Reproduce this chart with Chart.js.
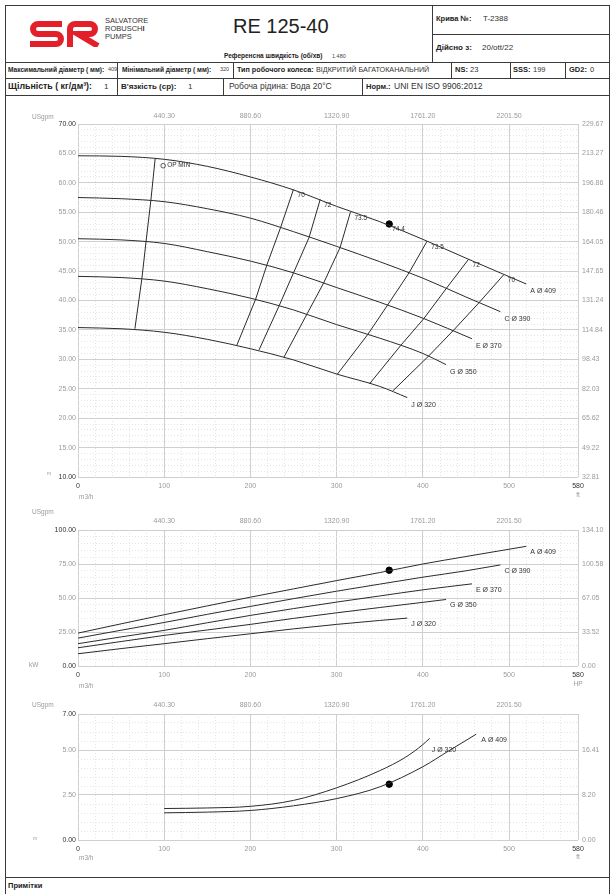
<!DOCTYPE html>
<html>
<head>
<meta charset="utf-8">
<script src="https://cdn.jsdelivr.net/npm/chart.js@4.4.0/dist/chart.umd.min.js"></script>
<style>
  html, body { margin: 0; padding: 0; background: #fff; }
  body { width: 614px; height: 894px; position: relative; overflow: hidden;
         font-family: "Liberation Sans", Arial, sans-serif; color: #222; }
  .ln { position: absolute; background: #3a3a3a; }
  .t { position: absolute; white-space: nowrap; line-height: 1; }
  .b { font-weight: bold; }
  canvas { position: absolute; left: 0; }
</style>
</head>
<body>

<!-- frame -->
<div class="ln" style="left:5px;top:5px;width:605px;height:1px"></div>
<div class="ln" style="left:5px;top:5px;width:1px;height:889px"></div>
<div class="ln" style="left:609px;top:5px;width:1px;height:889px"></div>
<div class="ln" style="left:432px;top:5px;width:1px;height:57px"></div>
<div class="ln" style="left:432px;top:34px;width:177px;height:1px"></div>
<div class="ln" style="left:5px;top:62px;width:605px;height:1px"></div>
<div class="ln" style="left:117px;top:62px;width:1px;height:16px"></div>
<div class="ln" style="left:233px;top:62px;width:1px;height:16px"></div>
<div class="ln" style="left:451px;top:62px;width:1px;height:16px"></div>
<div class="ln" style="left:510px;top:62px;width:1px;height:16px"></div>
<div class="ln" style="left:565px;top:62px;width:1px;height:16px"></div>
<div class="ln" style="left:5px;top:78px;width:605px;height:1px"></div>
<div class="ln" style="left:117px;top:78px;width:1px;height:17px"></div>
<div class="ln" style="left:223px;top:78px;width:1px;height:17px"></div>
<div class="ln" style="left:362px;top:78px;width:1px;height:17px"></div>
<div class="ln" style="left:5px;top:95px;width:605px;height:1px"></div>
<div class="ln" style="left:5px;top:877px;width:605px;height:1px"></div>

<!-- logo -->
<svg style="position:absolute;left:29px;top:21px" width="72" height="26" viewBox="0 0 72 26">
  <path d="M33 3 H9 A5 5 0 0 0 9 13 H27 A5 5 0 0 1 27 23 H1" stroke="#e3202a" stroke-width="6" fill="none"/>
  <path d="M41 26 V8 A5 5 0 0 1 46 3 H61 A5 5 0 0 1 61 13 H49 L69 25" stroke="#e3202a" stroke-width="6" fill="none"/>
</svg>
<div class="t" style="left:105px;top:17px;font-size:7.5px;color:#333">SALVATORE</div>
<div class="t" style="left:105px;top:25px;font-size:7.5px;color:#333">ROBUSCH<b>I</b></div>
<div class="t" style="left:105px;top:33px;font-size:7.5px;color:#333">PUMPS</div>

<div class="t" style="left:233px;top:16px;font-size:20px;color:#222">RE 125-40</div>
<div class="t b" style="left:224px;top:53px;font-size:6.5px">Референсна швидкість (об/хв)</div>
<div class="t" style="left:332px;top:54px;font-size:5.5px;color:#444">1.480</div>

<div class="t b" style="left:436px;top:15px;font-size:7.5px">Крива №:</div>
<div class="t" style="left:483px;top:15px;font-size:8px;color:#333">T-2388</div>
<div class="t b" style="left:436px;top:44px;font-size:8px">Дійсно з:</div>
<div class="t" style="left:482px;top:44px;font-size:8px;color:#333">20/ott/22</div>

<div class="t b" style="left:8px;top:67px;font-size:6.6px">Максимальний діаметр ( мм):</div>
<div class="t" style="left:108px;top:67px;font-size:5.5px;color:#444">409</div>
<div class="t b" style="left:122px;top:67px;font-size:6.6px">Мінімальний діаметр ( мм):</div>
<div class="t" style="left:220px;top:67px;font-size:5.5px;color:#444">320</div>
<div class="t b" style="left:237px;top:66px;font-size:7.2px">Тип робочого колеса:</div>
<div class="t" style="left:316px;top:66px;font-size:7.2px;color:#333">ВІДКРИТИЙ БАГАТОКАНАЛЬНИЙ</div>
<div class="t b" style="left:455px;top:66px;font-size:7.5px">NS:</div>
<div class="t" style="left:470px;top:66px;font-size:7.5px;color:#333">23</div>
<div class="t b" style="left:513px;top:66px;font-size:7.5px">SSS:</div>
<div class="t" style="left:533px;top:66px;font-size:7.5px;color:#333">199</div>
<div class="t b" style="left:569px;top:66px;font-size:7.5px">GD2:</div>
<div class="t" style="left:590px;top:66px;font-size:7.5px;color:#333">0</div>

<div class="t b" style="left:8px;top:82px;font-size:8.8px">Щільність ( кг/дм³):</div>
<div class="t" style="left:104px;top:83px;font-size:8px;color:#333">1</div>
<div class="t b" style="left:121px;top:83px;font-size:8px">В'язкість (ср):</div>
<div class="t" style="left:188px;top:83px;font-size:8px;color:#333">1</div>
<div class="t" style="left:229px;top:82px;font-size:8.5px;color:#333">Робоча рідина: Вода 20°C</div>
<div class="t b" style="left:366px;top:83px;font-size:7.5px">Норм.:</div>
<div class="t" style="left:394px;top:82px;font-size:8.5px;color:#333">UNI EN ISO 9906:2012</div>

<div class="t b" style="left:8px;top:882px;font-size:7.5px">Примітки</div>

<canvas id="headChart" width="614" height="410" style="top:100px"></canvas>
<canvas id="powerChart" width="614" height="194" style="top:500px"></canvas>
<canvas id="npshChart" width="614" height="180" style="top:694px"></canvas>

<script>
// flow axis (m3/h) and the US gpm axis on top
const Q_TICKS = [0, 100, 200, 300, 400, 500, 580]
const Q_LABELS = ['0', '100', '200', '300', '400', '500', '580']
const USGPM_AT = [100, 200, 300, 400, 500]
const USGPM_LABELS = ['440.30', '880.60', '1320.90', '1761.20', '2201.50']

const HEAD_TICKS = [10, 15, 20, 25, 30, 35, 40, 45, 50, 55, 60, 65, 70]
const HEAD_LABELS = ['10.00', '15.00', '20.00', '25.00', '30.00', '35.00', '40.00', '45.00', '50.00', '55.00', '60.00', '65.00', '70.00']
const HEAD_FT_LABELS = ['32.81', '49.22', '65.62', '82.03', '98.43', '114.84', '131.24', '147.65', '164.05', '180.46', '196.86', '213.27', '229.67']

const POWER_TICKS = [0, 25, 50, 75, 100]
const POWER_LABELS = ['0.00', '25.00', '50.00', '75.00', '100.00']
const POWER_HP_LABELS = ['0.00', '33.52', '67.05', '100.58', '134.10']

const NPSH_TICKS = [0, 2.5, 5, 7]
const NPSH_LABELS = ['0.00', '2.50', '5.00', '7.00']
const NPSH_FT_TICKS = [0, 2.5, 5]
const NPSH_FT_LABELS = ['0.00', '8.20', '16.41']

const IMPELLERS = ['A Ø 409', 'C Ø 390', 'E Ø 370', 'G Ø 350', 'J Ø 320']

// head (m) vs flow (m3/h)
const headQ_A = [0, 50, 100, 150, 200, 250, 300, 350, 400, 450, 520]
const headA = [64.6, 64.5, 64.0, 62.8, 61.0, 58.8, 56.0, 53.4, 50.4, 47.2, 42.8]
const headQ_C = [0, 50, 100, 150, 200, 250, 300, 350, 400, 450, 490]
const headC = [57.5, 57.3, 56.8, 55.6, 54.0, 51.7, 49.2, 46.6, 43.8, 40.6, 38.1]
const headQ_E = [0, 50, 100, 150, 200, 250, 300, 350, 400, 457]
const headE = [50.5, 50.3, 49.7, 48.3, 46.7, 44.7, 42.2, 39.7, 37.0, 33.5]
const headQ_G = [0, 50, 100, 150, 200, 250, 300, 350, 400, 427]
const headG = [44.1, 43.9, 43.3, 42.0, 40.4, 38.4, 35.9, 33.6, 31.0, 29.1]
const headQ_J = [0, 50, 100, 150, 200, 250, 300, 350, 382]
const headJ = [35.4, 35.2, 34.6, 33.4, 31.8, 29.9, 27.5, 25.4, 23.5]

// iso-efficiency lines, from A down to J
const ISO_LABELS = ['70', '72', '73.5', '73.5', '72', '70']
const iso70L_Q = [250, 235, 219, 206, 184]
const iso70L_H = [58.9, 52.4, 46.0, 40.2, 32.3]
const iso72L_Q = [281, 268, 250, 233, 210]
const iso72L_H = [57.2, 50.7, 44.7, 39.0, 31.6]
const iso735L_Q = [316, 304, 285, 266, 239]
const iso735L_H = [55.0, 49.0, 43.0, 37.8, 30.4]
const iso735R_Q = [405, 384, 359, 336, 301]
const iso735R_H = [50.1, 44.7, 39.2, 34.2, 27.5]
const iso72R_Q = [453, 427, 401, 374, 338]
const iso72R_H = [47.0, 42.0, 36.9, 32.3, 25.8]
const iso70R_Q = [494, 465, 436, 407, 365]
const iso70R_H = [44.4, 39.6, 35.0, 30.6, 24.6]
const opMin_Q = [89.5, 84.5, 79, 74, 66]
const opMin_H = [64.1, 57.0, 50.1, 43.6, 35.2]

// power (kW) vs flow
const powQ_A = [0, 50, 100, 150, 200, 250, 300, 350, 400, 450, 520]
const powA = [24.2, 31.0, 37.7, 44.2, 50.6, 56.7, 62.8, 68.7, 75.0, 80.5, 88.0]
const powQ_C = [0, 50, 100, 150, 200, 250, 300, 350, 400, 450, 490]
const powC = [20.5, 26.3, 32.0, 38.0, 43.8, 49.5, 55.0, 60.2, 65.3, 70.0, 74.3]
const powQ_E = [0, 50, 100, 150, 200, 250, 300, 350, 400, 457]
const powE = [16.4, 21.4, 26.2, 31.8, 37.2, 42.2, 47.0, 51.5, 56.0, 60.4]
const powQ_G = [0, 50, 100, 150, 200, 250, 300, 350, 400, 427]
const powG = [13.4, 18.0, 22.5, 26.5, 30.6, 35.0, 39.1, 43.0, 46.8, 48.9]
const powQ_J = [0, 50, 100, 150, 200, 250, 300, 350, 382]
const powJ = [9.0, 12.8, 16.4, 20.1, 23.7, 27.3, 30.6, 33.5, 35.2]

// NPSH (m) vs flow
const npshQ_J = [100, 150, 200, 250, 300, 350, 380, 400, 408]
const npshJ = [1.75, 1.78, 1.87, 2.2, 2.9, 3.85, 4.6, 5.3, 5.65]
const npshQ_A = [100, 150, 200, 250, 300, 350, 400, 430, 462]
const npshA = [1.51, 1.55, 1.64, 1.9, 2.3, 2.95, 4.07, 4.95, 5.88]

// duty point
const dutyQ = 361
const dutyH = 53.0
const dutyEff = '74.4'
const dutyP = 70.4
const dutyNpsh = 3.1

const FONT = '"Liberation Sans", Arial, sans-serif'
const INK = '#2b2b2b'
const GRID_MAJOR = '#cfcfcf'
const GRID_MINOR = '#e4e4e4'
const TICK_GRAY = '#9a9a9a'

Chart.defaults.font.family = FONT

const qGrid = []
for (let q = 0; q <= 580; q += 20) qGrid.push(q)

function points(qs, vs) {
  return qs.map((q, i) => ({ x: q, y: vs[i] }))
}

function curve(qs, vs, smooth = true) {
  return {
    data: points(qs, vs),
    showLine: true,
    borderColor: INK,
    borderWidth: 1,
    pointRadius: 0,
    cubicInterpolationMode: smooth ? 'monotone' : 'default',
    tension: 0
  }
}

function dot(q, v) {
  return {
    data: [{ x: q, y: v }],
    showLine: false,
    pointRadius: 3.2,
    pointBackgroundColor: '#000',
    pointBorderColor: '#000'
  }
}

function pageText(ctx, canvasTop, text, x, y, align = 'left', size = 6.5, color = TICK_GRAY) {
  ctx.font = `${size}px ${FONT}`
  ctx.fillStyle = color
  ctx.textAlign = align
  ctx.textBaseline = 'middle'
  ctx.fillText(text, x, y - canvasTop)
}

function makeChart(id, spec) {
  const isMajorQ = (v) => Q_TICKS.includes(v)
  const isMajorY = (v) => spec.yTicks.includes(v)
  const tickFont = { family: FONT, size: 7 }

  return new Chart(document.getElementById(id), {
    type: 'scatter',
    data: { datasets: spec.datasets },
    options: {
      responsive: false,
      animation: false,
      events: [],
      layout: { padding: 0 },
      plugins: { legend: { display: false }, tooltip: { enabled: false } },
      scales: {
        x: {
          type: 'linear',
          position: 'bottom',
          min: 0,
          max: 580,
          afterFit: (s) => { s.height = spec.bottomH },
          afterBuildTicks: (s) => { s.ticks = qGrid.map((v) => ({ value: v })) },
          ticks: {
            autoSkip: false,
            maxRotation: 0,
            padding: 5,
            font: tickFont,
            color: (c) => (c.tick && (c.tick.value === 0 || c.tick.value === 580)) ? '#333' : TICK_GRAY,
            callback: (v) => {
              const i = Q_TICKS.indexOf(v)
              return i < 0 ? '' : Q_LABELS[i]
            }
          },
          grid: {
            drawTicks: false,
            color: (c) => (c.tick && isMajorQ(c.tick.value)) ? GRID_MAJOR : GRID_MINOR
          },
          border: { display: false, dash: (c) => (c.tick && isMajorQ(c.tick.value)) ? [] : [1, 2] }
        },
        x2: {
          type: 'linear',
          position: 'top',
          min: 0,
          max: 580,
          afterFit: (s) => { s.height = spec.topH },
          afterBuildTicks: (s) => { s.ticks = USGPM_AT.map((v) => ({ value: v })) },
          ticks: {
            autoSkip: false,
            maxRotation: 0,
            padding: spec.topPad,
            font: tickFont,
            color: TICK_GRAY,
            callback: (v) => USGPM_LABELS[USGPM_AT.indexOf(v)]
          },
          grid: { display: false, drawTicks: false },
          border: { display: false }
        },
        y: {
          type: 'linear',
          position: 'left',
          min: spec.yMin,
          max: spec.yMax,
          afterFit: (s) => { s.width = 78 },
          afterBuildTicks: (s) => { s.ticks = spec.yGrid.map((v) => ({ value: v })) },
          ticks: {
            autoSkip: false,
            padding: 2,
            font: tickFont,
            color: (c) => (c.tick && (c.tick.value === spec.yMin || c.tick.value === spec.yMax)) ? '#333' : TICK_GRAY,
            callback: (v) => {
              const i = spec.yTicks.indexOf(v)
              return i < 0 ? '' : spec.yLabels[i]
            }
          },
          grid: {
            drawTicks: false,
            color: (c) => (c.tick && isMajorY(c.tick.value)) ? GRID_MAJOR : GRID_MINOR
          },
          border: { display: false, dash: (c) => (c.tick && isMajorY(c.tick.value)) ? [] : [1, 2] }
        },
        y2: {
          type: 'linear',
          position: 'right',
          min: spec.yMin,
          max: spec.yMax,
          afterFit: (s) => { s.width = 36 },
          afterBuildTicks: (s) => { s.ticks = spec.rightTicks.map((v) => ({ value: v })) },
          ticks: {
            autoSkip: false,
            padding: 4,
            font: tickFont,
            color: TICK_GRAY,
            callback: (v) => spec.rightLabels[spec.rightTicks.indexOf(v)]
          },
          grid: { display: false, drawTicks: false },
          border: { display: false }
        }
      }
    },
    plugins: [{
      id: 'notes',
      afterDatasetsDraw(chart) {
        const ctx = chart.ctx
        ctx.save()
        spec.notes(ctx, chart.scales.x, chart.scales.y)
        spec.extras.forEach((e) => pageText(ctx, spec.canvasTop, ...e))
        ctx.restore()
      }
    }]
  })
}

function label(ctx, text, x, y, size = 7, color = '#333') {
  ctx.font = `${size}px ${FONT}`
  ctx.fillStyle = color
  ctx.textAlign = 'left'
  ctx.textBaseline = 'middle'
  ctx.fillText(text, x, y)
}

function lastPoint(qs, vs) {
  return [qs[qs.length - 1], vs[vs.length - 1]]
}

// ---------- head chart
const headSets = [[headQ_A, headA], [headQ_C, headC], [headQ_E, headE], [headQ_G, headG], [headQ_J, headJ]]
const isoSets = [[iso70L_Q, iso70L_H], [iso72L_Q, iso72L_H], [iso735L_Q, iso735L_H],
                 [iso735R_Q, iso735R_H], [iso72R_Q, iso72R_H], [iso70R_Q, iso70R_H]]

const headGrid = []
for (let h = 10; h <= 70; h += 1) headGrid.push(h)

makeChart('headChart', {
  canvasTop: 100,
  topH: 24,
  bottomH: 33,
  topPad: 4,
  yMin: 10,
  yMax: 70,
  yGrid: headGrid,
  yTicks: HEAD_TICKS,
  yLabels: HEAD_LABELS,
  rightTicks: HEAD_TICKS,
  rightLabels: HEAD_FT_LABELS,
  datasets: [
    ...headSets.map(([q, h]) => curve(q, h)),
    ...isoSets.map(([q, h]) => curve(q, h, false)),
    curve(opMin_Q, opMin_H, false),
    dot(dutyQ, dutyH)
  ],
  notes(ctx, x, y) {
    headSets.forEach(([q, h], i) => {
      const [lq, lh] = lastPoint(q, h)
      label(ctx, IMPELLERS[i], x.getPixelForValue(lq) + 4, y.getPixelForValue(lh) + 7)
    })
    isoSets.forEach(([q, h], i) => {
      label(ctx, ISO_LABELS[i], x.getPixelForValue(q[0]) + 4, y.getPixelForValue(h[0]) + 6, 6.5)
    })
    label(ctx, dutyEff, x.getPixelForValue(dutyQ) + 3, y.getPixelForValue(dutyH) + 5, 6.5)
    const ox = x.getPixelForValue(opMin_Q[0])
    const oy = y.getPixelForValue(opMin_H[0])
    ctx.strokeStyle = '#333'
    ctx.lineWidth = 0.8
    ctx.beginPath()
    ctx.arc(ox + 8, oy + 7, 2.3, 0, Math.PI * 2)
    ctx.stroke()
    label(ctx, 'OP MIN', ox + 12, oy + 6, 6.5)
  },
  extras: [
    ['USgpm', 32, 117],
    ['m', 47, 474, 'left', 5],
    ['m3/h', 79, 497],
    ['ft', 578, 495, 'center']
  ]
})

// ---------- power chart
const powSets = [[powQ_A, powA], [powQ_C, powC], [powQ_E, powE], [powQ_G, powG], [powQ_J, powJ]]
const powGrid = []
for (let p = 0; p <= 100; p += 5) powGrid.push(p)

makeChart('powerChart', {
  canvasTop: 500,
  topH: 30,
  bottomH: 28,
  topPad: 5,
  yMin: 0,
  yMax: 100,
  yGrid: powGrid,
  yTicks: POWER_TICKS,
  yLabels: POWER_LABELS,
  rightTicks: POWER_TICKS,
  rightLabels: POWER_HP_LABELS,
  datasets: [
    ...powSets.map(([q, p]) => curve(q, p)),
    dot(dutyQ, dutyP)
  ],
  notes(ctx, x, y) {
    powSets.forEach(([q, p], i) => {
      const [lq, lp] = lastPoint(q, p)
      label(ctx, IMPELLERS[i], x.getPixelForValue(lq) + 4, y.getPixelForValue(lp) + 6)
    })
  },
  extras: [
    ['USgpm', 32, 512],
    ['kW', 29, 665],
    ['m3/h', 79, 686],
    ['HP', 578, 684, 'center']
  ]
})

// ---------- NPSH chart
const npshGrid = []
for (let n = 0; n <= 7; n += 0.5) npshGrid.push(n)

makeChart('npshChart', {
  canvasTop: 694,
  topH: 20,
  bottomH: 34,
  topPad: 5,
  yMin: 0,
  yMax: 7,
  yGrid: npshGrid,
  yTicks: NPSH_TICKS,
  yLabels: NPSH_LABELS,
  rightTicks: NPSH_FT_TICKS,
  rightLabels: NPSH_FT_LABELS,
  datasets: [
    curve(npshQ_J, npshJ),
    curve(npshQ_A, npshA),
    dot(dutyQ, dutyNpsh)
  ],
  notes(ctx, x, y) {
    const [jq, jn] = lastPoint(npshQ_J, npshJ)
    label(ctx, IMPELLERS[4], x.getPixelForValue(jq) + 2, y.getPixelForValue(jn) + 12)
    const [aq, an] = lastPoint(npshQ_A, npshA)
    label(ctx, IMPELLERS[0], x.getPixelForValue(aq) + 5, y.getPixelForValue(an) + 6)
  },
  extras: [
    ['USgpm', 32, 705],
    ['m', 33, 839, 'left', 5],
    ['m3/h', 79, 858],
    ['ft', 578, 857, 'center']
  ]
})
</script>
</body>
</html>
